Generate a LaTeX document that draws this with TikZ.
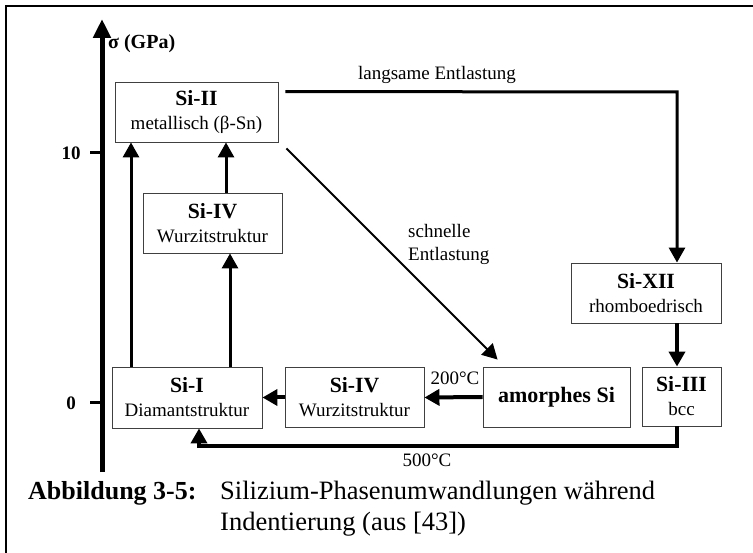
\documentclass[tikz,border=0pt]{standalone}
\usepackage{fontspec}
\setmainfont{Liberation Serif}
\usetikzlibrary{arrows.meta,calc}
\begin{document}
\begin{tikzpicture}[x=1pt,y=-1pt,
  box/.style={draw=black!75, line width=0.9pt, inner sep=0pt, align=center,
    font=\fontsize{19}{24}\selectfont},
  tip/.style={-{Triangle[length=15pt,width=16pt]}},
  conn/.style={line width=3pt, tip},
  thickconn/.style={line width=4pt, tip},
  thinconn/.style={line width=2pt, tip},
  lbl/.style={inner sep=0pt, font=\fontsize{19}{23}\selectfont},
  axlbl/.style={inner sep=0pt, font=\fontsize{19}{20}\selectfont\bfseries},
  captxt/.style={inner sep=0pt, anchor=base west}
]
\newcommand{\bx}[1]{{\fontsize{21.7}{24}\selectfont\bfseries #1}}
\useasboundingbox (0,0) rectangle (753,553);
% frame
\draw[line width=1.8pt] (6,553) -- (6,5.8) -- (753,5.8);
% axis
\coordinate (axb) at (102,472);
\coordinate (axt) at (102,19);
\draw[line width=5pt, -{Triangle[length=19pt,width=17pt]}] (axb) -- (axt);
\coordinate (t10) at (90,153);
\coordinate (t0) at (90,403);
\draw[line width=3pt] (t10) -- (t10 -| axb);
\draw[line width=3pt] (t0) -- (t0 -| axb);
\node[axlbl] (l10) at (71,153) {10};
\node[axlbl] (l0) at (71,403) {0};
\node[axlbl, anchor=west, font=\fontsize{20}{22}\selectfont\bfseries] (sig) at (108,44) {σ (GPa)};
% boxes
\node[box, minimum width=163pt, minimum height=60pt] (SiII) at (196.5,112) {\bx{Si-II}\\ metallisch (β-Sn)};
\node[box, minimum width=139pt, minimum height=60pt] (SiIVa) at (212.5,223) {\bx{Si-IV}\\ Wurzitstruktur};
\node[box, minimum width=150pt, minimum height=61pt] (SiI) at (187,397.5) {\bx{Si-I}\\ Diamantstruktur};
\node[box, minimum width=139pt, minimum height=60pt] (SiIVb) at (354.5,397.5) {\bx{Si-IV}\\ Wurzitstruktur};
\node[box, minimum width=147pt, minimum height=60pt] (amor) at (556.5,397) {{\fontsize{22}{24}\selectfont\bfseries amorphes Si}};
\node[box, minimum width=79pt, minimum height=59pt] (SiIII) at (681.5,396.5) {\bx{Si-III}\\ bcc};
\node[box, minimum width=150pt, minimum height=60pt] (SiXII) at (646,293) {\bx{Si-XII}\\ rhomboedrisch};
% helper x positions
\coordinate (x131) at (131,0);
\coordinate (x226) at (226,0);
\coordinate (x230) at (230,0);
\coordinate (x677) at (677,0);
\coordinate (c92) at (677,92);
\coordinate (c446) at (199,446);
% connectors
\draw[conn] (SiI.north -| x131) -- (SiII.south -| x131);
\draw[conn] (SiI.north -| x230) -- (SiIVa.south -| x230);
\draw[conn] (SiIVa.north -| x226) -- (SiII.south -| x226);
\draw[conn] ([shift={(7,10)}]SiII.north east) -- (c92) -- (SiXII.north -| x677);
\draw[thinconn] ([shift={(8,6)}]SiII.south east) -- ([shift={(15,-7)}]amor.north west);
\draw[thickconn] (SiXII.south -| x677) -- (SiIII.north -| x677);
\draw[thickconn] (SiIII.south -| x677) |- (c446) -- (SiI.south -| c446);
\draw[thickconn] (amor.west) -- (SiIVb.east);
\draw[thickconn] (SiIVb.west) -- (SiI.east);
% labels
\node[lbl] (lang) at (437,75) {langsame Entlastung};
\node[lbl, anchor=west, align=left] (schn) at (408,244.5) {schnelle\\Entlastung};
\node[lbl] (t200) at (455,378) {200°C};
\node[lbl] (t500) at (427,460) {500°C};
% caption
\node[captxt, font=\fontsize{26}{30}\selectfont\bfseries] (abb) at (28,499) {Abbildung 3-5:};
\node[captxt, font=\fontsize{26.5}{30}\selectfont] (cap1) at (220,499) {Silizium-Phasenumwandlungen während};
\node[captxt, font=\fontsize{26.5}{30}\selectfont] (cap2) at (220,530) {Indentierung (aus [43])};
\end{tikzpicture}
\end{document}
